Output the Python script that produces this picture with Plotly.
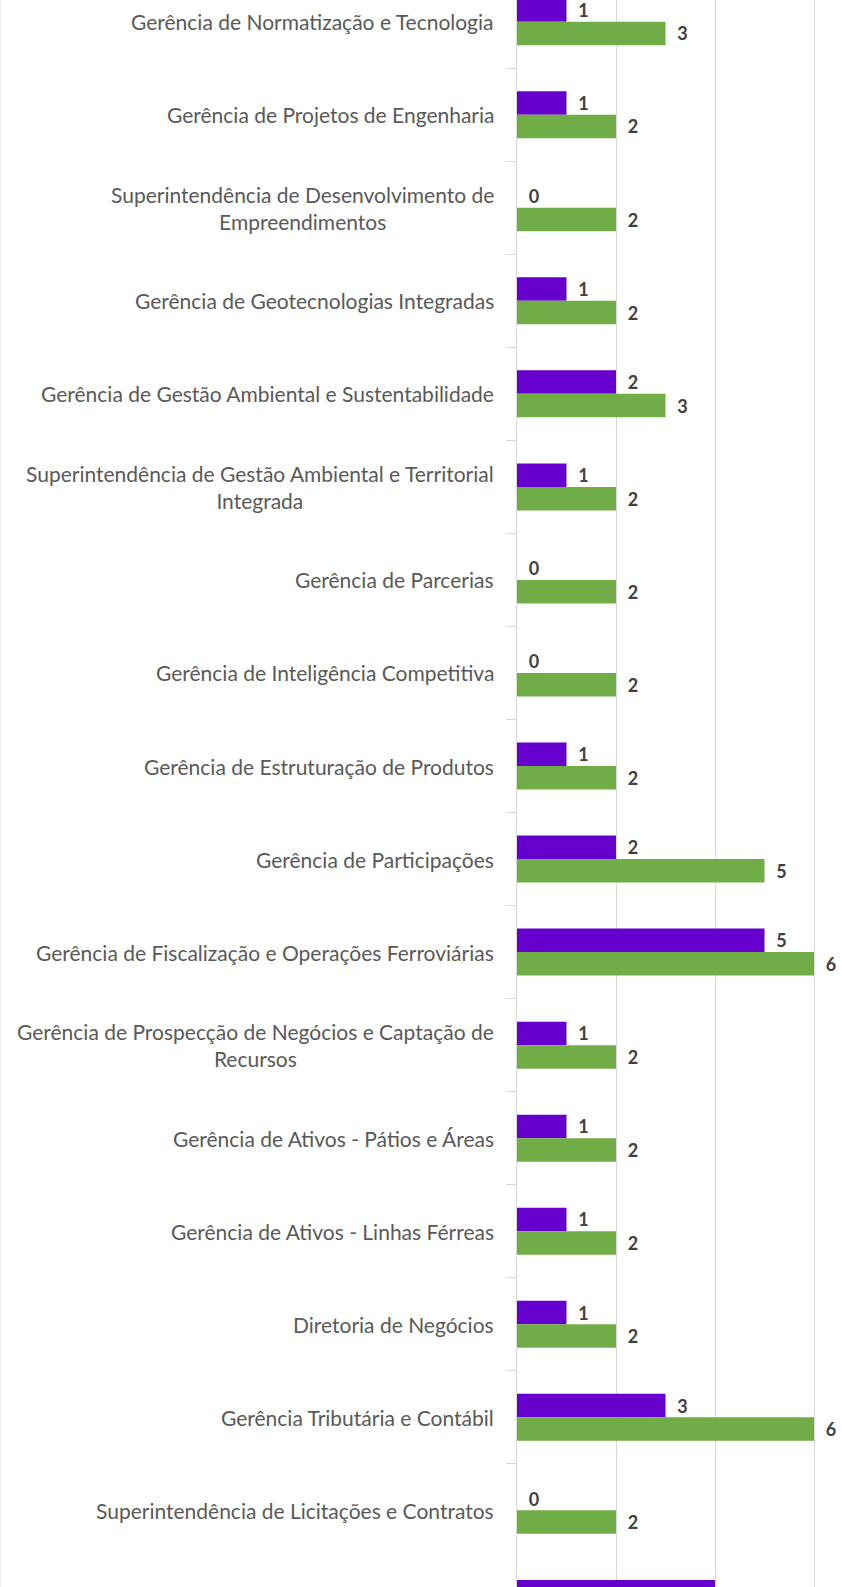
import plotly.graph_objects as go

# categories, top to bottom (last one is cut off by the crop, its label is not visible)
units = [
    "Gerência de Normatização e Tecnologia",
    "Gerência de Projetos de Engenharia",
    "Superintendência de Desenvolvimento de<br>Empreendimentos",
    "Gerência de Geotecnologias Integradas",
    "Gerência de Gestão Ambiental e Sustentabilidade",
    "Superintendência de Gestão Ambiental e Territorial<br>Integrada",
    "Gerência de Parcerias",
    "Gerência de Inteligência Competitiva",
    "Gerência de Estruturação de Produtos",
    "Gerência de Participações",
    "Gerência de Fiscalização e Operações Ferroviárias",
    "Gerência de Prospecção de Negócios e Captação de<br>Recursos",
    "Gerência de Ativos - Pátios e Áreas",
    "Gerência de Ativos - Linhas Férreas",
    "Diretoria de Negócios",
    "Gerência Tributária e Contábil",
    "Superintendência de Licitações e Contratos",
    " ",
]
purple_vals = [1, 1, 0, 1, 2, 1, 0, 0, 1, 2, 5, 1, 1, 1, 1, 3, 0, 4]
green_vals = [3, 2, 2, 2, 3, 2, 2, 2, 2, 5, 6, 2, 2, 2, 2, 6, 2, 5]

PURPLE = "#6600CC"
GREEN = "#70AD47"
GRID = "#D9D9D9"
LABEL_FONT = "Lato"

W, H = 842, 1587
left = 517          # pixel position of the value axis
unit_px = 49.5      # pixels per unit on x
cat_px = 93.04      # pixels per category
top_center = 21.7   # pixel y of first category center

fig = go.Figure()
for vals, col in [(purple_vals, PURPLE), (green_vals, GREEN)]:
    fig.add_trace(go.Bar(
        y=units, x=vals, orientation="h",
        marker=dict(color=col, line=dict(width=0)),
        text=vals, texttemplate="\u00a0\u00a0%{x}",
        textposition="outside", constraintext="none", cliponaxis=False,
        outsidetextfont=dict(family=LABEL_FONT, size=18, color="#404040", weight="bold"),
        hoverinfo="skip",
    ))

# category labels as annotations so wrapped lines stay centred
annotations = []
for u in units:
    if not u.strip():
        continue
    annotations.append(dict(
        x=-21 / (W - left), xref="paper", y=u, yref="y",
        text=u, showarrow=False, xanchor="right", yanchor="middle", align="center",
        font=dict(family=LABEL_FONT, size=21, color="#595959"),
    ))

r_top = -top_center / cat_px
r_bot = r_top + H / cat_px

fig.update_layout(
    width=W, height=H,
    margin=dict(l=left, r=0, t=0, b=0),
    barmode="group", bargap=0.495, bargroupgap=0,
    plot_bgcolor="white", paper_bgcolor="white",
    showlegend=False,
    annotations=annotations,
    shapes=[dict(type="line", xref="paper", yref="paper",
                 x0=-(left - 1) / (W - left), x1=-(left - 1) / (W - left), y0=0, y1=1,
                 line=dict(color="#E6E6E6", width=1))],
    xaxis=dict(
        range=[0, (W - left) / unit_px], tick0=0, dtick=2,
        showgrid=True, gridcolor=GRID, gridwidth=1,
        showticklabels=False, zeroline=False, showline=False,
    ),
    yaxis=dict(
        type="category", categoryorder="array", categoryarray=units,
        range=[r_bot, r_top],
        showline=True, linecolor=GRID, linewidth=1,
        ticks="outside", tickson="boundaries", ticklen=10, tickcolor=GRID,
        showticklabels=False, showgrid=False,
    ),
)

# drop the default body margin so the figure fills the window exactly
fig.write_html(
    "out.html",
    config={"displayModeBar": False},
    post_script="document.body.style.margin='0';document.body.style.overflow='hidden';",
)
